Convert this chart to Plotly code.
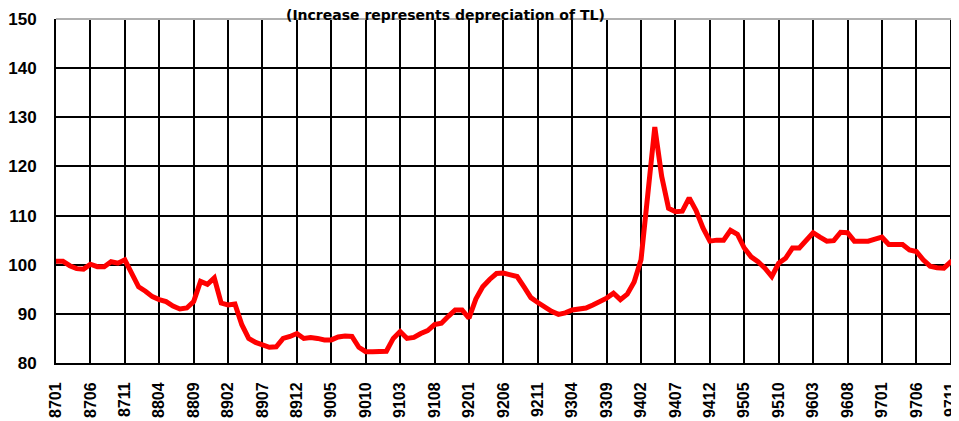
import plotly.graph_objects as go

# Monthly index, 8701 .. 9712 (YYMM)
months = [f"{y:02d}{m:02d}" for y in range(87, 98) for m in range(1, 13)]

values = [
    100.7, 100.7, 99.8, 99.2, 99.1, 100.1, 99.6, 99.6, 100.6, 100.3, 101.0, 98.0,   # 1987
    95.5, 94.6, 93.5, 92.9, 92.5, 91.6, 91.0, 91.2, 92.5, 96.6, 96.0, 97.3,         # 1988
    92.2, 91.8, 92.0, 87.8, 85.0, 84.2, 83.8, 83.2, 83.3, 85.0, 85.4, 86.0,         # 1989
    85.0, 85.2, 85.0, 84.7, 84.7, 85.3, 85.5, 85.4, 83.2, 82.3, 82.3, 82.3,         # 1990
    82.4, 85.0, 86.4, 85.0, 85.2, 86.0, 86.6, 87.8, 88.1, 89.5, 90.8, 90.8,         # 1991
    89.1, 93.0, 95.5, 97.0, 98.2, 98.3, 98.0, 97.6, 95.5, 93.3, 92.3, 91.3,         # 1992
    90.5, 89.9, 90.2, 90.8, 91.0, 91.2, 91.8, 92.5, 93.2, 94.2, 92.9, 94.0,         # 1993
    96.5, 101.0, 114.5, 128.0, 118.0, 111.5, 110.8, 110.9, 113.6, 111.0, 107.5, 104.8,  # 1994
    105.0, 105.0, 107.0, 106.2, 103.4, 101.6, 100.6, 99.3, 97.6, 100.3, 101.3, 103.4,   # 1995
    103.4, 105.0, 106.5, 105.6, 104.8, 104.9, 106.6, 106.5, 104.8, 104.8, 104.8, 105.2, # 1996
    105.6, 104.1, 104.1, 104.1, 103.0, 102.7, 101.0, 99.7, 99.4, 99.3, 100.6, 100.6,    # 1997
]

tick_labels = ["8701", "8706", "8711", "8804", "8809", "8902", "8907", "8912",
               "9005", "9010", "9103", "9108", "9201", "9206", "9211", "9304",
               "9309", "9402", "9407", "9412", "9505", "9510", "9603", "9608",
               "9701", "9706", "9711"]
y_ticks = [80, 90, 100, 110, 120, 130, 140, 150]
title_text = "(Increase represents depreciation of TL)"

xs = list(range(len(months)))
tick_pos = [months.index(t) for t in tick_labels]

fig = go.Figure()
fig.add_trace(go.Scatter(
    x=xs, y=values, mode="lines",
    line=dict(color="#ff0000", width=5),
    hoverinfo="skip", showlegend=False, cliponaxis=False,
))

font_bold = "Liberation Sans"
# page has an 8px body margin; size the figure so it fits the 959x421 window
W, H = 951, 413
L, R, T, B = 48, 0, 11, 58
pw, ph = W - L - R, H - T - B

fig.update_layout(
    width=W, height=H,
    margin=dict(l=L, r=R, t=T, b=B, autoexpand=False),
    paper_bgcolor="white", plot_bgcolor="white",
    showlegend=False,
    xaxis=dict(
        range=[0, 131.2], tickmode="array", tickvals=tick_pos, ticktext=tick_labels,
        tickangle=-90, showgrid=True, gridcolor="black", gridwidth=2,
        showline=True, linecolor="black", linewidth=2, automargin=False,
        ticks="", ticklabelstandoff=11, zeroline=False, ticklabeloverflow="allow",
        tickfont=dict(family=font_bold, size=16, color="black", weight="bold"),
    ),
    yaxis=dict(
        range=[80, 150], tickmode="array", tickvals=y_ticks,
        showgrid=True, gridcolor="black", gridwidth=2,
        showline=True, linecolor="black", linewidth=2, automargin=False,
        ticks="", ticklabelstandoff=14, zeroline=False,
        tickfont=dict(family=font_bold, size=17, color="black", weight="bold"),
    ),
    shapes=[dict(type="line", xref="paper", yref="paper", x0=0, x1=1, y0=1, y1=1,
                 line=dict(color="#b0b0b0", width=2), layer="above")],
    annotations=[dict(
        text=title_text, xref="paper", yref="paper",
        x=(437 - L) / pw, y=1 + (T - 7) / ph, xanchor="center", yanchor="middle",
        showarrow=False, borderpad=0,
        font=dict(family="DejaVu Sans", size=14, color="black", weight="bold"),
    )],
)

fig.write_html("out.html")
